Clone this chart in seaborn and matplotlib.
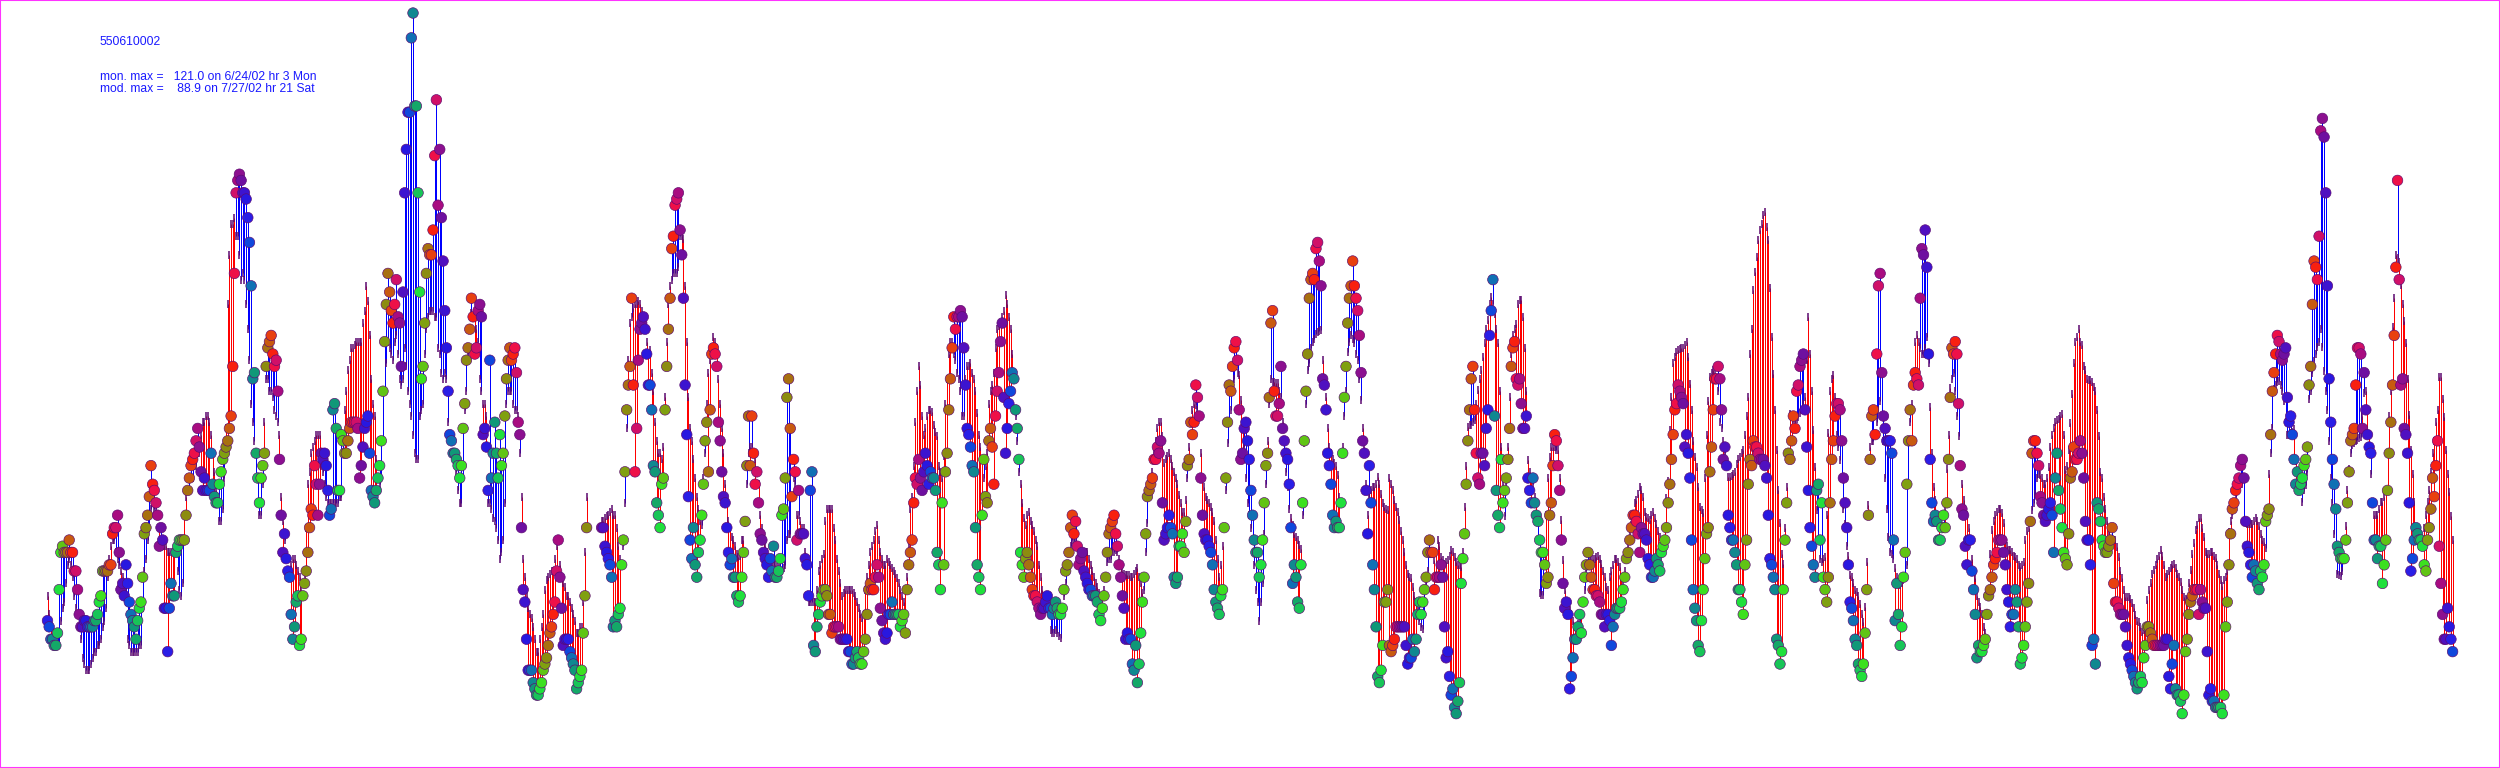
import matplotlib
matplotlib.use("Agg")
import matplotlib.pyplot as plt
import seaborn as sns
import pandas as pd
import numpy as np

# site id and the two maxima printed in the corner
site_id = "550610002"
mon_line = "mon. max =   121.0 on 6/24/02 hr 3 Mon"
mod_line = "mod. max =    88.9 on 7/27/02 hr 21 Sat"

# circle colour for each clock hour
hour_colors = ["#2a1ee6", "#1048dc", "#1070b4", "#108890", "#109878", "#14a868",
               "#18c458", "#20e03c", "#3ce020", "#60c414", "#80a010", "#8c8c10",
               "#a87010", "#c85a10", "#e84010", "#f82010", "#ee1048", "#d01068",
               "#a80c80", "#8c1090", "#6e10a0", "#5010c0", "#3c14d0", "#2818e0"]

# monitor values, one row per day, hourly
obs = [
    23,22,20,20,19,19,21,28,34,35,34,34,34,36,34,34,31,31,28,24,22,22,23,23,
    22,22,22,22,23,23,24,26,27,31,31,31,31,32,32,37,38,38,40,34,28,29,27,32,
    29,26,24,23,22,20,23,25,26,30,37,38,40,43,48,45,44,42,40,35,38,36,25,25,
    18,25,29,27,27,34,35,36,36,36,36,40,44,46,48,49,50,52,54,51,47,44,46,44,
    44,44,50,45,43,42,42,45,47,49,50,51,52,54,56,64,79,92,94,95,94,92,92,91,
    88,84,77,62,63,50,46,42,46,48,50,64,67,68,69,66,64,65,60,49,40,34,37,33,
    31,30,24,20,22,26,27,19,20,27,29,31,34,38,41,40,48,45,40,45,50,49,50,48,
    44,40,41,57,58,54,44,44,53,52,50,50,52,54,55,55,55,55,54,46,48,51,54,55,
    56,50,44,43,42,44,46,48,52,60,68,74,79,76,73,71,74,78,72,71,64,76,92,99,
    105,105,117,121,106,106,92,76,62,64,71,79,83,82,82,86,98,107,90,99,88,81,73,67,
    60,53,52,50,50,49,48,46,48,54,58,65,67,70,75,72,66,67,73,74,72,53,54,51,
    44,65,46,50,55,50,46,53,48,50,56,62,65,67,65,66,67,63,55,53,38,28,26,20,
    15,15,15,13,12,11,11,12,13,15,16,17,19,21,22,24,26,31,36,30,25,19,20,20,
    20,18,17,16,15,12,13,14,15,21,27,38,None,None,None,None,None,None,None,None,38,38,35,34,
    33,32,30,22,23,22,24,25,32,36,47,57,61,64,75,61,47,54,65,70,71,72,70,66,
    61,61,57,48,47,42,40,38,45,46,57,64,70,75,83,85,90,91,92,86,82,75,61,53,
    43,36,33,38,32,30,34,36,40,45,52,55,47,57,66,67,66,64,55,52,47,43,42,38,
    34,32,33,30,30,27,26,27,30,34,39,48,56,48,56,50,45,47,42,37,36,34,33,32,
    30,33,31,35,30,30,31,33,40,41,46,59,62,54,43,49,47,36,44,37,37,37,33,32,
    27,44,47,19,18,22,24,26,27,28,28,27,24,24,21,22,22,22,22,20,20,20,20,20,
    18,18,16,16,17,18,17,16,16,18,20,24,28,29,28,28,30,32,30,25,23,21,20,21,
    24,24,26,24,24,24,24,22,23,24,21,28,32,34,36,42,46,45,49,46,44,47,50,48,
    45,47,46,46,44,34,32,28,42,32,47,50,57,62,67,72,70,72,72,73,72,67,61,54,
    53,51,48,47,38,32,30,28,40,49,43,42,52,54,51,45,56,60,63,68,71,59,50,54,
    58,60,63,62,57,54,49,34,32,30,33,34,32,30,28,27,27,26,25,24,25,25,26,27,
    25,25,24,25,26,25,24,24,25,28,31,32,34,38,40,37,39,35,32,33,34,31,30,29,
    28,28,27,27,27,26,24,23,25,27,30,34,37,38,39,40,37,35,32,30,27,25,20,21,
    20,20,16,15,19,13,16,21,26,30,37,43,44,45,46,49,49,51,50,52,42,36,37,38,
    40,38,37,30,29,30,35,35,37,34,39,48,49,55,53,55,61,59,56,46,40,37,36,36,
    35,34,32,28,26,25,24,27,28,38,46,55,61,60,64,67,68,65,57,49,50,54,55,52,
    49,44,40,36,34,34,30,32,36,42,48,50,59,71,73,60,56,56,58,64,54,52,50,49,
    45,38,29,32,30,26,25,32,42,52,60,66,75,78,79,78,83,84,81,77,62,61,57,50,
    48,45,40,38,39,38,38,42,50,59,64,71,75,77,81,77,75,73,69,63,52,50,44,37,
    48,42,32,28,22,14,13,15,19,26,26,28,19,18,19,20,22,22,22,22,22,22,19,16,
    17,17,20,18,20,24,26,24,26,28,30,34,36,34,34,28,30,30,30,32,30,22,17,18,
    14,11,12,9,8,10,13,29,33,37,45,52,57,62,64,57,50,46,45,50,50,48,54,57,
    69,73,78,56,44,40,38,49,42,44,46,49,54,64,67,68,62,61,62,58,54,54,56,46,
    44,42,46,42,40,39,36,34,34,32,29,30,40,42,48,53,52,48,44,36,29,25,26,24,
    12,14,17,20,20,22,24,21,26,30,32,34,32,30,28,28,27,27,26,24,24,22,24,24,
    23,19,22,24,25,25,25,26,28,30,33,34,36,38,40,40,39,37,34,38,37,37,36,33,
    32,30,30,31,33,32,31,34,35,36,38,42,45,49,53,57,58,61,60,59,58,51,53,50,
    46,36,28,25,23,19,18,23,28,33,37,38,47,51,57,62,62,64,62,57,49,51,48,40,
    38,36,36,34,32,28,28,26,24,32,36,45,49,48,52,51,51,50,49,49,49,48,46,40,
    33,32,30,28,20,19,16,18,28,36,42,50,49,52,56,54,60,61,64,65,66,57,51,44,
    38,35,32,30,44,45,36,42,30,28,26,30,42,49,52,56,58,58,57,52,46,42,38,32,
    26,25,23,20,19,16,15,14,16,21,28,40,49,56,57,53,66,77,79,63,56,54,52,52,
    52,50,36,23,29,24,19,22,30,34,45,52,57,52,61,63,62,61,75,83,82,86,80,66,
    49,42,39,40,39,36,36,38,40,38,42,49,59,67,66,68,66,58,48,41,40,35,32,36,
    36,31,28,24,17,19,18,18,19,20,24,27,28,30,32,33,34,36,36,36,34,32,28,26,
    22,24,24,28,26,22,16,17,19,22,26,29,39,50,52,52,50,48,43,42,40,39,40,41,
    42,40,34,46,50,44,41,38,34,33,32,37,46,47,51,49,49,50,52,50,46,39,36,36,
    32,19,20,16,42,41,39,36,35,34,34,35,36,38,29,26,26,25,24,24,24,22,19,17,
    16,15,14,13,12,13,14,13,17,19,22,22,21,20,19,19,19,19,19,19,19,20,20,14,
    12,16,19,12,11,11,10,8,11,18,20,24,26,27,28,28,28,24,28,26,25,25,18,11,
    12,10,10,9,9,9,9,8,11,22,26,32,37,41,42,44,45,46,48,49,46,39,35,34,
    32,30,32,31,29,28,31,30,32,39,40,41,53,60,63,66,69,68,66,65,66,67,59,55,
    56,53,49,45,47,44,45,46,48,49,51,61,64,74,81,80,78,85,102,104,101,92,77,62,
    55,49,45,41,35,34,33,33,33,36,42,47,52,53,54,61,67,67,66,54,63,57,53,51,
    50,42,36,36,33,35,35,29,32,36,44,50,55,61,69,80,94,78,61,62,54,53,50,42,
    31,33,36,38,37,36,36,35,32,31,36,38,41,46,43,48,52,35,29,24,20,20,25,22,
    20,18,
]

# model values, same hours
mod = [
    27,24,22,20,19,19,19,19,23,25,26,29,32,33,32,30,27,25,24,22,20,17,16,15,
    15,15,16,17,18,18,19,19,20,22,23,25,30,33,35,36,36,34,33,32,31,30,27,26,
    20,19,18,18,18,18,18,19,19,25,31,33,36,38,41,42,41,41,40,38,36,36,35,35,
    34,34,34,34,34,34,31,28,27,29,40,43,44,44,46,46,48,48,50,50,53,55,55,56,
    56,55,53,50,47,44,42,39,39,41,46,54,74,82,87,87,88,85,85,82,78,79,78,74,
    70,65,58,55,52,46,42,40,40,45,55,62,62,60,60,59,57,56,55,53,43,39,36,33,
    31,31,32,33,33,32,31,30,28,27,30,38,45,47,50,51,52,53,53,53,48,47,45,43,
    42,42,42,42,42,42,42,43,43,50,57,60,63.5,65,67,67,67.5,68,68,68,68,71,73,77,
    74.5,69,62,58,56,49,46,45,46,52,60,64.5,68,67,66,65,68,69,66,62,61,62,67,64,
    60,58,56,53,50,49,49,56,57,58,66,70,72,73,73,73,72,72,67,66,63,62,63,62,
    55,53,52,50,50,47,44,42,42,46,57,60,66,70,72.6,72,73,70,68,62,60,58,58,56,
    42,42,41,39.5,39,38,36,33,34,36,42,58,60,60,60,58,57,57,56,50,43,33,30,27,
    25,24,23.5,22,20,18,18,20,22,24,28,29.5,30,30.5,31,31,33,35,36,32,30,29,28.5,27,
    27,26,25,24,23,21,21,22,22,26,34,43,None,None,None,None,None,None,None,None,39,39,39.5,39.8,
    40,40.5,41,40,40,38,35,33,32,35,42,54,65,71,72,73.5,74,74,74.5,74,73,72,71,68,
    66,66.6,63,60,55,52,50,50,49,51,59,68,74,77,78,79,79,79,80,85,85,84.5,77,68,
    59,54,52,49,46,43,41,39,38.5,46,50,58,63,65,67,68.7,68,67,62,58,54,50,45,42,
    39,38,36.5,36,35,33.8,33.2,33.5,36,36,38.7,45,50,51,51,50,49,47,45,40,38,36,35,34,
    33,32,32,32,32,31.7,31.5,31,31,31.5,32,36,37,37,43,46,45,40,40,39,38,38,34,33,
    26,26,26,26,26,28,31,32,33,33.8,39,41,41,41,41,38,36,33,31,29,27,27.5,28,28,
    28,28,28,27.5,27,26,25,24,23.5,24,28,30,32,34,35,36,37.5,38.4,36,34,33,32,32,33,
    32.5,32,31.5,31,30.5,29.8,29,28,27,26,28,30,35,41,43,48,55,60,64,61,56,53,54,56,
    57,57,56.6,54.5,53.5,52.8,48,47,46,49.6,58,62,66,68,68,66,65,63,62,60,56,56,62,64,
    64,64.5,63,62,60,56.5,53,51,49,46,48,50,58,60,61,63,67,70,70.5,71,72,73,75.5,74,
    72,70,66,62,56,52,47,45,42,39.5,38.5,40,40.5,39,38.5,37.5,36,35,32,30,28,27,26.5,26,
    24,21.5,21,21,21.5,21,20.5,20.2,24,27,29,31,34,35,36,35.8,35.5,35,34,33.5,33,33.5,34,34,
    33,32,31,30,29,28.5,27.5,26.5,27,28,30,32.5,33,33,34,34,34.4,34,33,32,31,30.5,30.4,30.4,
    30.4,30,30,30.5,31,31.5,30,29,27.5,28,34,38.7,43,45,47,50,52,54,55,55,52.7,48.4,49,49.5,
    50,49,48,47,46,45,43.3,42,40.5,40.5,42.5,46,51,55,57,58,57.8,57,56,50,46,44.5,43,42.5,
    42,41.4,40.5,39,36,33,30,32,35,38,44,51.6,55,57,60,62,64,63,62.6,58.6,54,51,46,42,
    40,38,36,32,28,26,23,26,29,37,45,52,58,62,61.5,61.5,61.3,61.3,60,59,55,50,47,44.6,
    41,39.5,38.5,37,36.5,36,35.2,34.5,40,51.6,58,63.4,64.5,67,68,68.5,69.3,69.5,69.7,69.9,65,62,59,54,
    51,50,49,48.5,48,46.5,43,42,51,56,60,66.4,68,69,68.5,67.7,66,65,62,58.6,54,51,45,40,
    43,44,44.6,44.6,45,46.2,45,43.5,42,41.4,41,40.8,46,45,44,42.5,41.4,40.5,39.2,37.5,36,34,32,30.6,
    30,29.8,28.5,27,26,25,23,22,21.7,24,28.7,31,33.8,33.8,33.8,32.8,34,36,35,33.3,32.7,32.2,32.5,32.8,
    33.5,34.4,34,33.3,32.5,32,32,31.7,34,41.4,48,54.3,54.5,54.5,55,55.3,58,60.2,62,63.4,65.5,67.7,70,71.5,
    74,75.2,74,72.5,70,67.7,60,51,45,39.8,45,51,59,66,69,70,70.9,74,74.7,74.7,72,67,60,48.9,
    47,46,45,43,41.9,36,27.4,27.2,27.1,33.8,40,46,49.4,51,51,51,50.5,50.5,46,39.2,32.8,27.9,24.2,24.5,
    24.7,24,23,22,22,22.5,23,24,26,28,31,32,32.7,32.8,33,33,33.3,33.5,33,32.2,31,30,28.5,28,
    30,31,32,33,33,32.5,31.7,30,28.7,31,33,35,37,38.5,40,42,42.4,43.5,44.6,44,43,40.5,39.7,39.5,
    39.2,40,40.5,39.5,38.6,37.5,36.5,35.5,34.9,38,42.7,45.6,53.7,59,64.5,65.5,66.3,66.6,66.8,67,67,67.5,68,65.5,
    61.2,56.9,52,49.4,47.8,44.6,41.3,40.8,40.3,46,53,58.5,62.3,63,63.4,63,62,60,55,54,52,50,48,46.2,
    46.2,46.4,46.7,47,48.3,49,49.4,50,50.5,53,56,59,66,70,76.3,79.2,81.7,84.4,86,87,88.4,88.9,86.5,84.4,
    76.6,68.8,62.8,57,50.5,44,38.7,33.8,32.2,38,44.6,50,56.4,56,55.5,55.3,55.5,55.9,56.5,57,58,59,65,72,
    66,60,53.7,47.8,40.8,36,33,32.5,33,33.3,40,53.2,60,62,62.6,59,53,51,48.9,46,41,38.6,35,33.5,
    30.3,30,29,28,27.6,27,25.7,24,22.8,25.2,32.5,41.6,51,52,52,53,55,57,58.5,56,52,46,41,36.5,
    34,33.8,33,31.5,30,29,28.7,29,29.5,30,32,45,55,58,63,68,69,68,67,66,66,67,68.8,64.5,
    57.5,50,44.6,42.4,40,38,36,38,38,41,47.5,53,60.5,62,63,60,56,52.7,48,45,42.4,41,40,38,
    36,33,31,29.8,27,26,25.2,24,22,21,24.2,28,33.8,37.6,39,40,40.6,41,41,40.3,38.7,36,35,34.4,
    34.4,34,33.5,33.3,33,32,31.7,32,32.5,36,37.5,38,39,40.8,42,43.5,46,46.7,46.5,46,45,45,46,47.8,
    51,53,54,55,55.3,55.5,56,56.4,53,47.3,48,50.5,54.8,59.6,64.5,68,68.8,70.1,68,67.4,64,63.4,62,61.8,
    61.8,61.5,60.7,60,57,52.7,47,46,43,41,39,37.5,36,36,36,36,34.9,33.3,31,29.8,28,26.8,26.8,26.8,
    26.5,25.8,25,23.9,23,22.8,22,21.2,21.5,22,26.3,28,29,30.5,31.1,32,33,33.5,34.4,33.5,32,30,30.5,31,
    31.5,32,32.2,31.5,30.6,30,29.3,28,26.8,26.5,26.3,29,31.1,33.8,35.5,37.6,38.5,39.5,39.6,38,36.5,34,33.8,33.8,
    34,34.1,33.5,33.1,32,30.5,29.5,28.6,29.5,30,31,37.3,39,40,42,43,44,45,46,45,39,38.7,38.6,38.6,
    38.6,38.6,39,39.6,39,38.3,37,36,35.7,34.7,40,46.7,50,54,60.3,61,61.5,61.6,61,60,58.4,55,52.9,53,
    53.2,53.5,53.9,48.7,47,45,44,42.2,44,44.8,47,58.7,60,62.9,64.9,66,67.1,68,70,67.1,63.2,60,57,51.9,
    46,42,37,34,30.5,30.3,30.2,31,33,38.3,44,47.4,50,51.3,51.6,51.9,52.2,52.4,52.6,56,59.7,60,57,53,
    46.7,42,40,40,40,41,42.2,42.2,43,44.1,50,56,60,70.4,75,82,81.5,80.8,77.2,74,71.4,67.8,62,56.1,
    50.6,46.7,42.2,38,36,35,35,36,38,40,42.2,44,47,50,52,55,57,62.3,62.3,58.7,55.8,50.6,46.7,43.8,
    39.9,36,
]

df = pd.DataFrame({"obs": np.array(obs, dtype=float), "mod": np.array(mod, dtype=float)})
df["hour"] = df.index
df["clock"] = df["hour"] % 24

sns.set_style("white")
fig, ax = plt.subplots(figsize=(25, 7.68), dpi=100)
ax.set_position([0, 0, 1, 1])

# stems between monitor and model
above = df[df["obs"] >= df["mod"]]
below = df[df["obs"] < df["mod"]]
ax.vlines(above["hour"], above["mod"], above["obs"], color="#0000ff", lw=0.72, zorder=1)
ax.vlines(below["hour"], below["obs"], below["mod"], color="#ff0000", lw=0.72, zorder=1)

# model ticks
sns.scatterplot(data=df, x="hour", y="mod", marker="|", s=30, color="#5c0a70",
                linewidth=1.1, antialiased=False, ax=ax, zorder=2, legend=False)

# monitor circles coloured by hour
palette = {h: c for h, c in enumerate(hour_colors)}
sns.scatterplot(data=df, x="hour", y="obs", hue="clock", palette=palette, s=58,
                edgecolor="#5c0a70", linewidth=0.45, ax=ax, zorder=3, legend=False)

ax.set_xlim(-28.46, 1469.4)
ax.set_ylim(-0.77, 123.1)
ax.set_xticks([])
ax.set_yticks([])
ax.set_xlabel("")
ax.set_ylabel("")
for s in ax.spines.values():
    s.set_color("#ff33ff")
    s.set_linewidth(1.5)
    s.set_visible(True)

blue = "#1a1aff"
fig.text(100 / 2500, 1 - 42 / 768, site_id, color=blue, family="Liberation Sans", fontsize=8.7, va="center")
fig.text(100 / 2500, 1 - 77 / 768, mon_line, color=blue, family="Liberation Sans", fontsize=8.7, va="center")
fig.text(100 / 2500, 1 - 89 / 768, mod_line, color=blue, family="Liberation Sans", fontsize=8.7, va="center")

fig.savefig("out.png", dpi=100)
